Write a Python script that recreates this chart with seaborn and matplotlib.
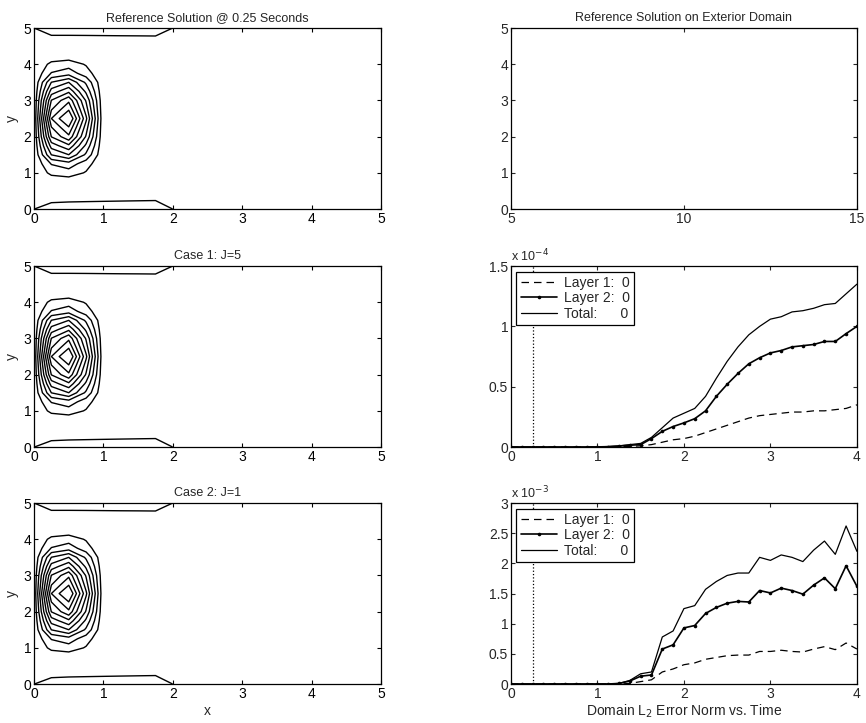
import numpy as np
import pandas as pd
import matplotlib
matplotlib.use("Agg")
import matplotlib.pyplot as plt
import seaborn as sns

# ---- contour field (coarse 0.25 grid) ----
x_grid = [0.0, 0.25, 0.5, 0.75, 1.0, 1.25, 1.5, 1.75, 2.0, 2.25, 2.5,
          2.75, 3.0, 3.25, 3.5, 3.75, 4.0, 4.25, 4.5, 4.75, 5.0]
y_grid = x_grid
# pulse profile along x and along y (peak at x=0.5, y=2.5)
pulse_x = [0.0, 0.8, 1.0, 0.55, 0.0, 0, 0, 0, 0, 0, 0,
           0, 0, 0, 0, 0, 0, 0, 0, 0, 0]
pulse_y = [0.0, 0.0, 0.0, 0.02, 0.13, 0.22, 0.44, 0.60, 0.78, 0.88, 1.0,
           0.88, 0.78, 0.60, 0.44, 0.22, 0.13, 0.02, 0.0, 0.0, 0.0]
# thin boundary layers at y=0 and y=5
edge_bot_x = [0.079, 0.13, 0.14, 0.145, 0.15, 0.155, 0.16, 0.165, 0.079, 0, 0,
              0, 0, 0, 0, 0, 0, 0, 0, 0, 0]
edge_top_x = [0.079, 0.15, 0.15, 0.152, 0.155, 0.158, 0.16, 0.163, 0.079, 0, 0,
              0, 0, 0, 0, 0, 0, 0, 0, 0, 0]
edge_bot_y = [1.0, 0.45] + [0.0] * 19
edge_top_y = [0.0] * 19 + [0.42, 1.0]
levels = [0.08, 0.17, 0.26, 0.35, 0.44, 0.53, 0.62, 0.71, 0.80, 0.89]

# ---- error norm vs time ----
time = [0.0, 0.125, 0.25, 0.375, 0.5, 0.625, 0.75, 0.875, 1.0, 1.125, 1.25,
        1.375, 1.5, 1.625, 1.75, 1.875, 2.0, 2.125, 2.25, 2.375, 2.5, 2.625,
        2.75, 2.875, 3.0, 3.125, 3.25, 3.375, 3.5, 3.625, 3.75, 3.875, 4.0]

# case 1 (x 1e-4)
c1_layer1 = [0, 0, 0, 0, 0, 0, 0, 0, 0.0, 0.001, 0.002, 0.005, 0.01, 0.02, 0.04,
             0.06, 0.07, 0.09, 0.12, 0.15, 0.18, 0.21, 0.24, 0.26, 0.27, 0.28,
             0.29, 0.29, 0.30, 0.30, 0.31, 0.32, 0.35]
c1_layer2 = [0, 0, 0, 0, 0, 0, 0, 0, 0.001, 0.003, 0.008, 0.015, 0.02, 0.07,
             0.13, 0.17, 0.20, 0.235, 0.30, 0.42, 0.52, 0.61, 0.69, 0.74, 0.78,
             0.80, 0.83, 0.84, 0.85, 0.875, 0.875, 0.94, 1.0]
c1_total = [0, 0, 0, 0, 0, 0, 0, 0, 0.002, 0.004, 0.01, 0.02, 0.03, 0.08, 0.16,
            0.24, 0.28, 0.32, 0.42, 0.57, 0.71, 0.83, 0.93, 1.0, 1.06, 1.08,
            1.12, 1.13, 1.15, 1.18, 1.19, 1.27, 1.35]

# case 2 (x 1e-3)
c2_layer1 = [0, 0, 0, 0, 0, 0, 0, 0, 0, 0, 0.0, 0.01, 0.04, 0.07, 0.20, 0.25,
             0.32, 0.35, 0.41, 0.44, 0.47, 0.48, 0.48, 0.54, 0.54, 0.56, 0.54,
             0.53, 0.58, 0.62, 0.57, 0.68, 0.58]
c2_layer2 = [0, 0, 0, 0, 0, 0, 0, 0, 0, 0, 0.01, 0.05, 0.13, 0.15, 0.58, 0.65,
             0.93, 0.97, 1.17, 1.27, 1.34, 1.37, 1.36, 1.55, 1.51, 1.59, 1.55,
             1.49, 1.64, 1.76, 1.58, 1.96, 1.62]
c2_total = [0, 0, 0, 0, 0, 0, 0, 0, 0, 0, 0.01, 0.06, 0.17, 0.20, 0.78, 0.88,
            1.25, 1.30, 1.57, 1.70, 1.80, 1.84, 1.84, 2.10, 2.05, 2.14, 2.10,
            2.03, 2.22, 2.37, 2.15, 2.62, 2.20]

left_titles = ["Reference Solution @ 0.25 Seconds", "Case 1: J=5", "Case 2: J=1"]

sns.set_style("ticks")
plt.rcParams['font.family'] = ['Liberation Sans', 'DejaVu Sans']
plt.rcParams['font.size'] = 9
plt.rcParams['xtick.direction'] = 'in'
plt.rcParams['ytick.direction'] = 'in'
plt.rcParams['xtick.top'] = True
plt.rcParams['ytick.right'] = True
plt.rcParams['xtick.major.size'] = 3
plt.rcParams['ytick.major.size'] = 3
plt.rcParams['axes.linewidth'] = 0.9
plt.rcParams['axes.edgecolor'] = 'black'

Z = (np.outer(pulse_y, pulse_x) + np.outer(edge_bot_y, edge_bot_x)
     + np.outer(edge_top_y, edge_top_x))

fig = plt.figure(figsize=(8.66, 7.23), dpi=100)
rows = [0.7109, 0.3817, 0.0539]
h = 0.2503

# left column: contour plots
for i, b in enumerate(rows):
    ax = fig.add_axes([0.0393, b, 0.4007, h])
    ax.contour(x_grid, y_grid, Z, levels=levels, colors='black', linewidths=1.0)
    ax.set_xlim(0, 5)
    ax.set_ylim(0, 5)
    ax.set_xticks([0, 1, 2, 3, 4, 5])
    ax.set_yticks([0, 1, 2, 3, 4, 5])
    ax.set_title(left_titles[i], fontsize=9, pad=5)
    ax.set_ylabel("y", fontsize=10, labelpad=3)
    if i == 2:
        ax.set_xlabel("x", fontsize=10, labelpad=2)
    ax.tick_params(labelsize=10, pad=2, colors='black')

# right top: empty exterior domain
ax = fig.add_axes([0.590, rows[0], 0.3995, h])
ax.set_xlim(5, 15)
ax.set_ylim(0, 5)
ax.set_xticks([5, 10, 15])
ax.set_yticks([0, 1, 2, 3, 4, 5])
ax.set_title("Reference Solution on Exterior Domain", fontsize=9, pad=5)
ax.tick_params(labelsize=10, pad=2)

# right middle/bottom: error norms
cases = [(c1_layer1, c1_layer2, c1_total, 1.5, [0, 0.5, 1, 1.5], "x 10$^{-4}$"),
         (c2_layer1, c2_layer2, c2_total, 3, [0, 0.5, 1, 1.5, 2, 2.5, 3], "x 10$^{-3}$")]
for j, (l1, l2, tot, ymax, yt, scale) in enumerate(cases):
    ax = fig.add_axes([0.590, rows[j + 1], 0.3995, h])
    df = pd.DataFrame({"time": time, "l1": l1, "l2": l2, "tot": tot})
    sns.lineplot(data=df, x="time", y="l1", ax=ax, color='black', lw=0.9,
                 linestyle=(0, (6, 4)), label="Layer 1:  0")
    sns.lineplot(data=df, x="time", y="l2", ax=ax, color='black', lw=1.2,
                 marker='o', markersize=2.6, markeredgewidth=0, label="Layer 2:  0")
    sns.lineplot(data=df, x="time", y="tot", ax=ax, color='black', lw=0.9,
                 label="Total:      0")
    ax.axvline(0.25, color='black', ls=':', lw=0.9)
    ax.set_xlim(0, 4)
    ax.set_ylim(0, ymax)
    ax.set_xticks([0, 1, 2, 3, 4])
    ax.set_yticks(yt)
    ax.set_yticklabels([f"{v:g}" for v in yt])
    ax.set_xlabel("")
    ax.set_ylabel("")
    ax.tick_params(labelsize=10, pad=2)
    ax.text(0.0, 1.012, scale, transform=ax.transAxes, fontsize=9,
            ha='left', va='bottom')
    leg = ax.legend(loc='upper left', fontsize=10, frameon=True, fancybox=False,
                    handlelength=2.6, borderpad=0.3, labelspacing=0.1,
                    handletextpad=0.5, borderaxespad=0.4)
    leg.get_frame().set_edgecolor('black')
    leg.get_frame().set_linewidth(0.9)
    leg.get_frame().set_alpha(1)
    if j == 1:
        ax.set_xlabel("Domain L$_2$ Error Norm vs. Time", fontsize=10, labelpad=1)

fig.savefig("out.png", dpi=100)
